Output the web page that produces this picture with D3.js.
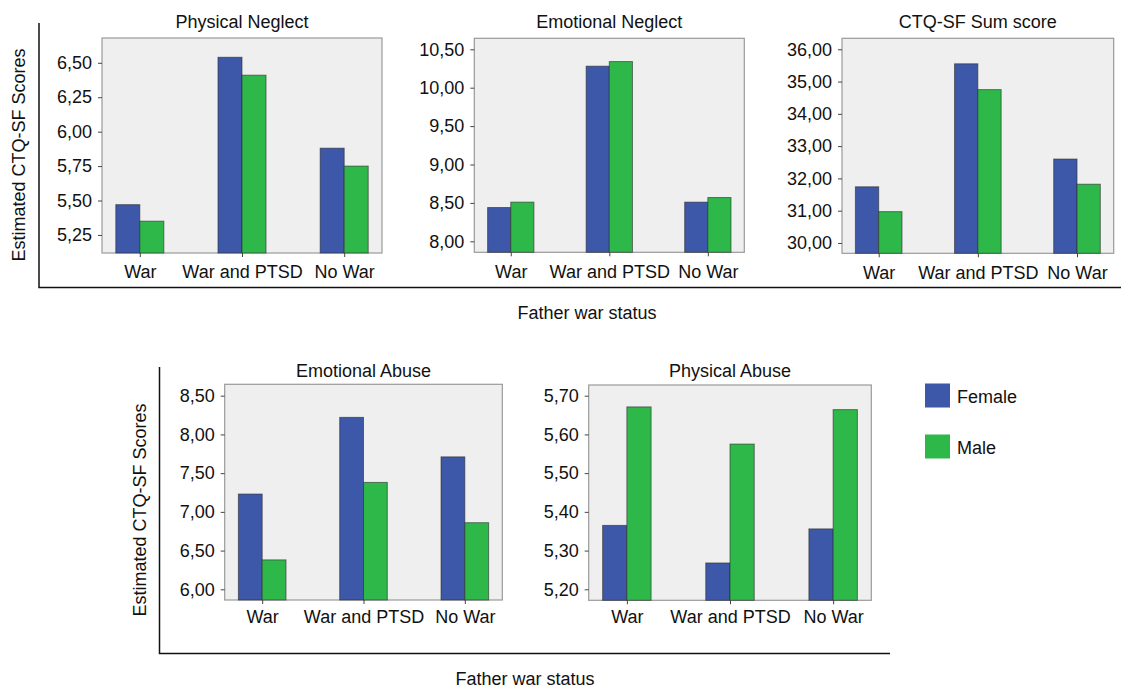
<!DOCTYPE html>
<html><head><meta charset="utf-8">
<script src="https://cdn.jsdelivr.net/npm/d3@7"></script>
<style>body{margin:0;background:#fff}svg{display:block}text{font-family:"Liberation Sans",Arial,sans-serif;fill:#111}</style>
</head><body><svg id="c" width="1121" height="689"></svg>
<script>
// ---- data ----
const categories = ["War", "War and PTSD", "No War"];
const seriesNames = ["Female", "Male"];
const panelTitles = ["Physical Neglect", "Emotional Neglect", "CTQ-SF Sum score", "Emotional Abuse", "Physical Abuse"];
const physicalNeglectFemale = [5.47, 6.54, 5.88];
const physicalNeglectMale   = [5.35, 6.41, 5.75];
const emotionalNeglectFemale = [8.44, 10.28, 8.51];
const emotionalNeglectMale   = [8.51, 10.34, 8.57];
const sumScoreFemale = [31.74, 35.55, 32.60];
const sumScoreMale   = [30.97, 34.75, 31.82];
const emotionalAbuseFemale = [7.23, 8.22, 7.71];
const emotionalAbuseMale   = [6.38, 7.38, 6.86];
const physicalAbuseFemale = [5.365, 5.268, 5.356];
const physicalAbuseMale   = [5.671, 5.575, 5.664];
const physicalNeglectTicks = [5.25, 5.50, 5.75, 6.00, 6.25, 6.50];
const emotionalNeglectTicks = [8.00, 8.50, 9.00, 9.50, 10.00, 10.50];
const sumScoreTicks = [30, 31, 32, 33, 34, 35, 36];
const emotionalAbuseTicks = [6.00, 6.50, 7.00, 7.50, 8.00, 8.50];
const physicalAbuseTicks = [5.20, 5.30, 5.40, 5.50, 5.60, 5.70];
const physicalNeglectDomain = [5.119, 6.68];
const emotionalNeglectDomain = [7.857, 10.643];
const sumScoreDomain = [29.68, 36.34];
const emotionalAbuseDomain = [5.862, 8.647];
const physicalAbuseDomain = [5.1716, 5.7276];
const yAxisTitle = "Estimated CTQ-SF Scores";
const xAxisTitle = "Father war status";

// ---- layout ----
const colors = {Female: "#3d58a8", Male: "#2eb84a"};
const svg = d3.select("#c");
const fs = 18;
const fmt = v => d3.format(".2f")(v).replace(".", ",");

const panels = [
  {title: panelTitles[0], f: physicalNeglectFemale, m: physicalNeglectMale, ticks: physicalNeglectTicks, dom: physicalNeglectDomain, x0: 102, x1: 382, y0: 38, y1: 253, xpad: 8.5, tpad: 10},
  {title: panelTitles[1], f: emotionalNeglectFemale, m: emotionalNeglectMale, ticks: emotionalNeglectTicks, dom: emotionalNeglectDomain, x0: 474.3, x1: 744.3, y0: 38.3, y1: 252.3, xpad: 8.5, tpad: 10},
  {title: panelTitles[2], f: sumScoreFemale, m: sumScoreMale, ticks: sumScoreTicks, dom: sumScoreDomain, x0: 842, x1: 1113.7, y0: 38.3, y1: 253.3, xpad: 8.5, tpad: 10},
  {title: panelTitles[3], f: emotionalAbuseFemale, m: emotionalAbuseMale, ticks: emotionalAbuseTicks, dom: emotionalAbuseDomain, x0: 224.7, x1: 502.3, y0: 384.3, y1: 600, xpad: 6, tpad: 7.5},
  {title: panelTitles[4], f: physicalAbuseFemale, m: physicalAbuseMale, ticks: physicalAbuseTicks, dom: physicalAbuseDomain, x0: 588.7, x1: 871.3, y0: 385, y1: 600.3, xpad: 6, tpad: 8}
];

panels.forEach(p => {
  const g = svg.append("g");
  const x = d3.scaleBand().domain(categories).range([p.x0, p.x1]).paddingInner(0.53).paddingOuter(0.135);
  const xs = d3.scaleBand().domain(seriesNames).range([0, x.bandwidth()]);
  const y = d3.scaleLinear().domain(p.dom).range([p.y1, p.y0]);
  g.append("rect").attr("x", p.x0).attr("y", p.y0).attr("width", p.x1 - p.x0).attr("height", p.y1 - p.y0)
    .attr("fill", "#efefef").attr("stroke", "#9a9a9a").attr("stroke-width", 1.2);
  const rows = categories.map((c, i) => ({c, Female: p.f[i], Male: p.m[i]}));
  rows.forEach(r => {
    seriesNames.forEach(s => {
      g.append("rect").attr("x", x(r.c) + xs(s)).attr("y", y(r[s])).attr("width", xs.bandwidth())
        .attr("height", p.y1 - y(r[s])).attr("fill", colors[s]).attr("stroke", "#2a2a2a").attr("stroke-opacity", 0.6).attr("stroke-width", 1);
    });
  });
  const ya = d3.axisLeft(y).tickValues(p.ticks).tickFormat(fmt).tickSize(4).tickPadding(6);
  const yg = g.append("g").attr("transform", `translate(${p.x0},0)`).call(ya);
  yg.select(".domain").remove();
  yg.selectAll("line").attr("stroke", "#444");
  yg.selectAll("text").attr("font-size", fs).attr("fill", "#111").style("font-family", "'Liberation Sans',Arial,sans-serif");
  const xa = d3.axisBottom(d3.scalePoint().domain(categories).range([x(categories[0]) + x.bandwidth()/2, x(categories[2]) + x.bandwidth()/2])).tickSize(4).tickPadding(p.xpad);
  const xg = g.append("g").attr("transform", `translate(0,${p.y1})`).call(xa);
  xg.select(".domain").remove();
  xg.selectAll("line").attr("stroke", "#444");
  xg.selectAll("text").attr("font-size", fs).attr("fill", "#111").style("font-family", "'Liberation Sans',Arial,sans-serif");
  g.append("text").attr("x", (p.x0 + p.x1) / 2).attr("y", p.y0 - p.tpad).attr("text-anchor", "middle").attr("font-size", fs).text(p.title);
});

// outer frames
function frame(xL, yT, yB, xR, labX, labY, titX, titY) {
  svg.append("path").attr("d", `M${xL},${yT}V${yB}H${xR}`).attr("fill", "none").attr("stroke", "#111").attr("stroke-width", 1.5);
  svg.append("text").attr("transform", `translate(${labX},${labY}) rotate(-90)`).attr("text-anchor", "middle").attr("font-size", fs).text(yAxisTitle);
  svg.append("text").attr("x", titX).attr("y", titY).attr("text-anchor", "middle").attr("font-size", fs).text(xAxisTitle);
}
frame(39, 23, 287.5, 1121, 24.5, 155, 587, 318.5);
frame(159.5, 367, 653.5, 890, 146, 510, 525, 684.5);

// legend
const lg = svg.append("g");
seriesNames.forEach((s, i) => {
  lg.append("rect").attr("x", 925).attr("y", 383.5 + i * 51).attr("width", 25).attr("height", 24).attr("fill", colors[s]);
  lg.append("text").attr("x", 957).attr("y", 402.5 + i * 51).attr("font-size", fs).text(s);
});
</script></body></html>
